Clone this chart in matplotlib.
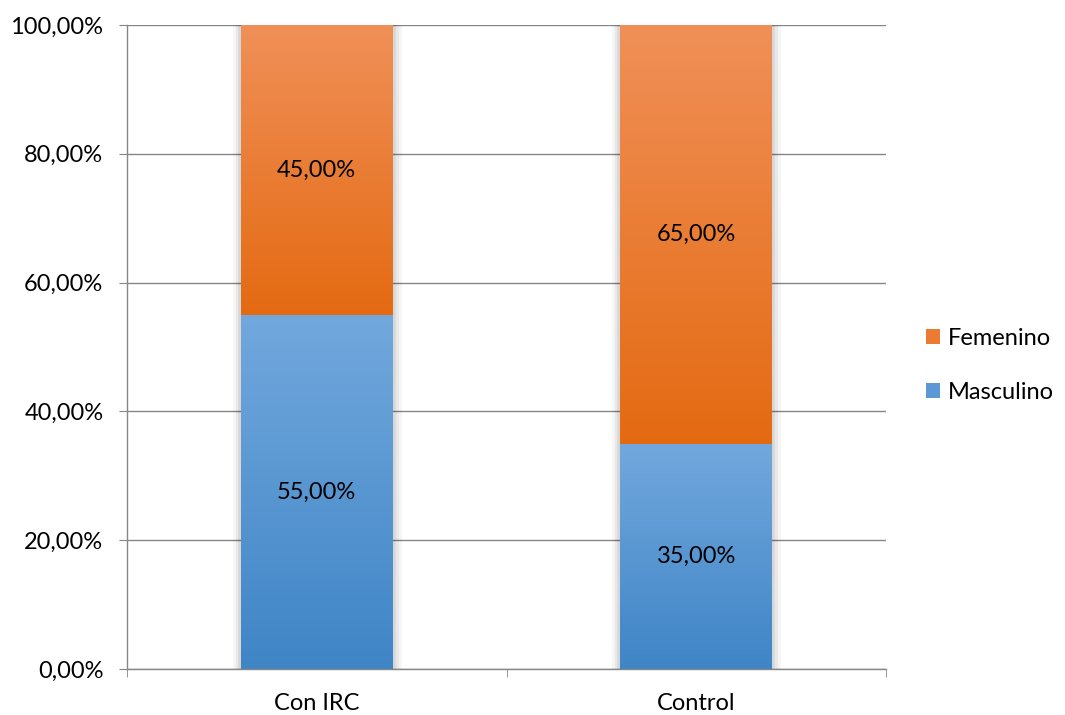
import numpy as np
import matplotlib
matplotlib.use("Agg")
import matplotlib.pyplot as plt
import matplotlib.patheffects as pe
from matplotlib.colors import LinearSegmentedColormap
from matplotlib.ticker import FuncFormatter

categories = ["Con IRC", "Control"]
masculino = [55.0, 35.0]
femenino = [45.0, 65.0]
series_names = ["Femenino", "Masculino"]

plt.rcParams['font.family'] = ['Lato', 'DejaVu Sans']
FS = 17

fig = plt.figure(figsize=(10.65, 7.15), dpi=100)
ax = fig.add_axes([127 / 1065, 1 - 669 / 715, (886 - 127) / 1065, (669 - 25) / 715])

blue_cm = LinearSegmentedColormap.from_list("b", ["#3F85C6", "#72A8DD"])
orange_cm = LinearSegmentedColormap.from_list("o", ["#E46A12", "#F09058"])

x = np.arange(len(categories))
width = 0.4

bars_m = ax.bar(x, masculino, width, color="none", label=series_names[1], zorder=3)
bars_f = ax.bar(x, femenino, width, bottom=masculino, color="none", label=series_names[0], zorder=3)

# soft glow-like shadow around each full stack
soft = [pe.Stroke(linewidth=12, foreground="black", alpha=0.04),
        pe.Stroke(linewidth=8, foreground="black", alpha=0.05),
        pe.Stroke(linewidth=4, foreground="black", alpha=0.07),
        pe.Normal()]
for bm in bars_m:
    sh = plt.Rectangle((bm.get_x(), 0), bm.get_width(), 100, facecolor="white",
                       edgecolor="none", zorder=2)
    sh.set_path_effects(soft)
    ax.add_patch(sh)

grad = np.linspace(0, 1, 256).reshape(-1, 1)
for bars, cmap in [(bars_m, blue_cm), (bars_f, orange_cm)]:
    for b in bars:
        x0, y0 = b.get_x(), b.get_y()
        w, h = b.get_width(), b.get_height()
        ax.imshow(grad, cmap=cmap, origin="lower", aspect="auto",
                  extent=(x0, x0 + w, y0, y0 + h), zorder=3)
        ax.text(x0 + w / 2, y0 + h / 2, f"{b.get_height():.2f}%".replace(".", ","),
                ha="center", va="center", fontsize=FS, color="black", zorder=5)

ax.set_xlim(-0.5, len(categories) - 0.5)
ax.set_ylim(0, 100)
ax.set_yticks(np.arange(0, 101, 20))
ax.yaxis.set_major_formatter(FuncFormatter(lambda v, p: f"{v:.2f}%".replace(".", ",")))
ax.set_xticks(x)
ax.set_xticklabels(categories)
ax.set_xticks(np.arange(-0.5, len(categories), 1.0), minor=True)
ax.tick_params(axis="x", which="major", length=0, labelsize=FS, pad=17)
ax.tick_params(axis="x", which="minor", length=6, color="#868686")
ax.tick_params(axis="y", length=6, color="#868686", labelsize=FS, pad=11)
ax.grid(axis="y", color="#868686", linewidth=1, zorder=0)
ax.set_axisbelow(True)
for s in ["top", "right"]:
    ax.spines[s].set_visible(False)
for s in ["left", "bottom"]:
    ax.spines[s].set_color("#868686")
    ax.spines[s].set_linewidth(1)
    ax.spines[s].set_zorder(4)

handles = [plt.Rectangle((0, 0), 1, 1, facecolor="#EC7A30"),
           plt.Rectangle((0, 0), 1, 1, facecolor="#5A99D6")]
ax.legend(handles, series_names, loc="center left", bbox_to_anchor=(1.04, 0.472),
          frameon=False, fontsize=FS, handlelength=0.6, handleheight=0.6,
          handletextpad=0.35, labelspacing=1.4, borderaxespad=0)

fig.savefig("out.png", dpi=100)
